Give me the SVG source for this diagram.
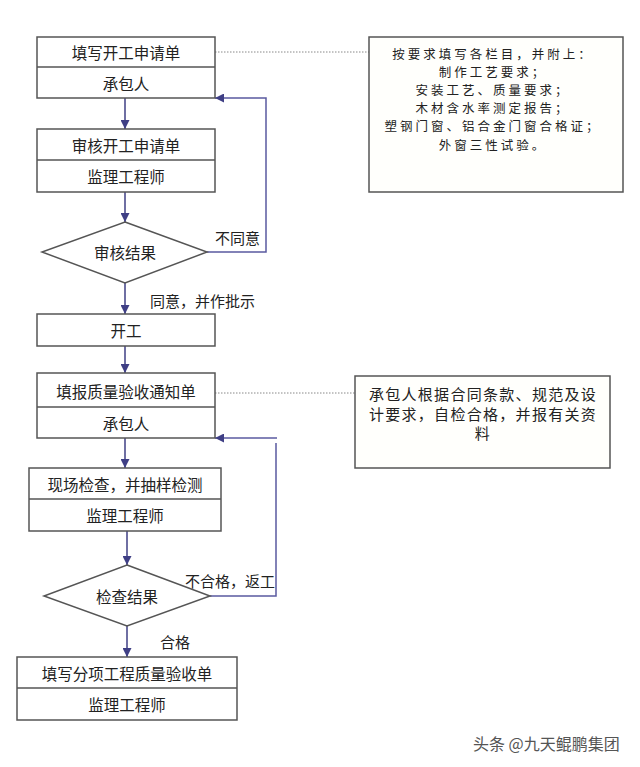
<svg xmlns="http://www.w3.org/2000/svg" width="640" height="767" viewBox="0 0 640 767">
<defs>
<marker id="ah" viewBox="0 0 10 10" refX="10" refY="5" markerWidth="9" markerHeight="9" markerUnits="userSpaceOnUse" orient="auto">
<path d="M0,0 L10,5 L0,10 z" fill="#3f3f85"/>
</marker>
</defs>
<style>
.box{fill:#fff;stroke:#555;stroke-width:1.5}
.note{fill:#fffffc;stroke:#555;stroke-width:1.5}
.t{font-family:"Noto Sans CJK SC","Noto Sans",sans-serif;font-size:15.5px;fill:#222;text-anchor:middle;dominant-baseline:central}
.n{font-family:"Noto Sans CJK SC","Noto Sans",sans-serif;font-size:12.5px;letter-spacing:3px;fill:#222;text-anchor:middle;dominant-baseline:central}
.m{font-family:"Noto Sans CJK SC","Noto Sans",sans-serif;font-size:15px;letter-spacing:1.3px;fill:#222;text-anchor:middle;dominant-baseline:central}
.lbl{font-family:"Noto Sans CJK SC","Noto Sans",sans-serif;font-size:15px;fill:#222;dominant-baseline:central}
.c{fill:none;stroke:#3f3f85;stroke-width:1.5}
.lp{fill:none;stroke:#5a5aa0;stroke-width:1.5}
.dot{fill:none;stroke:#888;stroke-width:1;stroke-dasharray:1.5 1.5}
</style>
<rect width="640" height="767" fill="#fff"/>
<g id="connectors">
<line class="c" x1="125" y1="98" x2="125" y2="129" marker-end="url(#ah)"/>
<line class="c" x1="125" y1="192" x2="125" y2="222" marker-end="url(#ah)"/>
<polyline class="lp" points="207,252 266,252 266,98 215,98" marker-end="url(#ah)"/>
<line class="c" x1="125" y1="283" x2="125" y2="314" marker-end="url(#ah)"/>
<line class="c" x1="125" y1="346" x2="125" y2="373" marker-end="url(#ah)"/>
<line class="c" x1="125" y1="438" x2="125" y2="468" marker-end="url(#ah)"/>
<line class="c" x1="127" y1="531" x2="127" y2="565" marker-end="url(#ah)"/>
<polyline class="lp" points="277,438 215,438" marker-end="url(#ah)"/>
<polyline class="lp" points="210,596 276,596 276,443"/>
<line class="c" x1="127" y1="626" x2="127" y2="657" marker-end="url(#ah)"/>
<line class="dot" x1="215" y1="52" x2="369" y2="52"/>
<line class="dot" x1="215" y1="393" x2="355" y2="393"/>
<text class="lbl" x="215" y="237">不同意</text>
<text class="lbl" x="150" y="300">同意，并作批示</text>
<text class="lbl" x="185" y="580">不合格，返工</text>
<text class="lbl" x="160" y="641">合格</text>
</g>
<g id="n1">
<rect class="box" x="37" y="37" width="178" height="61"/>
<line class="box" x1="37" y1="67" x2="215" y2="67"/>
<text class="t" x="126" y="52">填写开工申请单</text>
<text class="t" x="126" y="83">承包人</text>
</g>
<g id="n2">
<rect class="box" x="37" y="129" width="178" height="63"/>
<line class="box" x1="37" y1="160" x2="215" y2="160"/>
<text class="t" x="126" y="145">审核开工申请单</text>
<text class="t" x="126" y="176">监理工程师</text>
</g>
<g id="d1">
<polygon class="box" points="125,222 207,252 125,283 42,252"/>
<text class="t" x="125" y="252">审核结果</text>
</g>
<g id="n3">
<rect class="box" x="37" y="314" width="178" height="32"/>
<text class="t" x="126" y="330">开工</text>
</g>
<g id="n4">
<rect class="box" x="37" y="373" width="178" height="65"/>
<line class="box" x1="37" y1="407" x2="215" y2="407"/>
<text class="t" x="126" y="391">填报质量验收通知单</text>
<text class="t" x="126" y="423">承包人</text>
</g>
<g id="n5">
<rect class="box" x="29" y="468" width="192" height="63"/>
<line class="box" x1="29" y1="499" x2="221" y2="499"/>
<text class="t" x="125" y="484">现场检查，并抽样检测</text>
<text class="t" x="125" y="515">监理工程师</text>
</g>
<g id="d2">
<polygon class="box" points="127,565 210,596 127,626 44,596"/>
<text class="t" x="127" y="596">检查结果</text>
</g>
<g id="n6">
<rect class="box" x="17" y="657" width="220" height="63"/>
<line class="box" x1="17" y1="688" x2="237" y2="688"/>
<text class="t" x="127" y="673">填写分项工程质量验收单</text>
<text class="t" x="127" y="704">监理工程师</text>
</g>
<g id="note1">
<rect class="note" x="369" y="37" width="254" height="155"/>
<text class="n" x="493" y="53">按要求填写各栏目，并附上：</text>
<text class="n" x="493" y="71.2">制作工艺要求；</text>
<text class="n" x="493" y="89.4">安装工艺、质量要求；</text>
<text class="n" x="493" y="107.6">木材含水率测定报告；</text>
<text class="n" x="493" y="125.8">塑钢门窗、铝合金门窗合格证；</text>
<text class="n" x="493" y="144">外窗三性试验。</text>
</g>
<g id="note2">
<rect class="note" x="355" y="376" width="255" height="92"/>
<text class="m" x="483" y="393">承包人根据合同条款、规范及设</text>
<text class="m" x="483" y="413">计要求，自检合格，并报有关资</text>
<text class="m" x="483" y="432">料</text>
</g>
<text class="lbl" x="473" y="743" style="font-size:16px;fill:#555">头条 @九天鲲鹏集团</text>
</svg>
